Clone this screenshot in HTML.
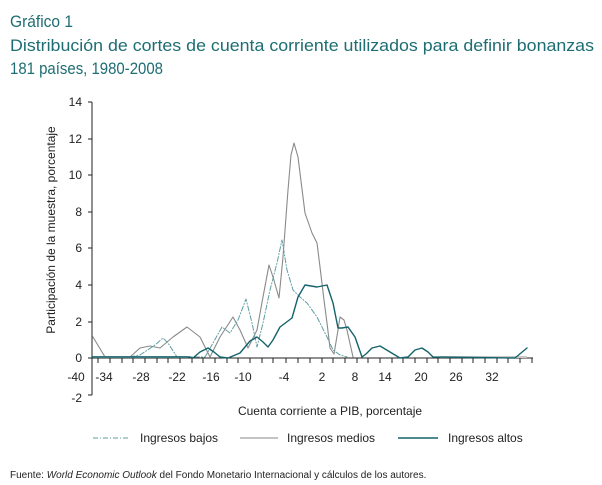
<!DOCTYPE html>
<html><head><meta charset="utf-8"><style>
body{margin:0;background:#fff;}
svg{display:block;font-family:"Liberation Sans",sans-serif;}
</style></head><body>
<svg width="602" height="485" viewBox="0 0 602 485" xmlns="http://www.w3.org/2000/svg">
<g fill="#1d6d73" font-size="17">
<text x="10" y="27" textLength="63" lengthAdjust="spacingAndGlyphs">Gráfico 1</text>
<text x="10" y="51" textLength="584" lengthAdjust="spacingAndGlyphs">Distribución de cortes de cuenta corriente utilizados para definir bonanzas</text>
<text x="10" y="74" textLength="153" lengthAdjust="spacingAndGlyphs">181 países, 1980-2008</text>
</g>
<g stroke="#222" stroke-width="1" fill="none">
<line x1="92" y1="102" x2="92" y2="395"/>
<line x1="92" y1="358" x2="533" y2="358"/>
<line x1="88" y1="102" x2="92" y2="102"/>
<line x1="88" y1="139" x2="92" y2="139"/>
<line x1="88" y1="175" x2="92" y2="175"/>
<line x1="88" y1="212" x2="92" y2="212"/>
<line x1="88" y1="248" x2="92" y2="248"/>
<line x1="88" y1="285" x2="92" y2="285"/>
<line x1="88" y1="322" x2="92" y2="322"/>
<line x1="88" y1="358" x2="92" y2="358"/>
<line x1="88" y1="395" x2="92" y2="395"/>
</g>
<g font-size="12" fill="#222" text-anchor="end">
<text x="82" y="106">14</text><text x="82" y="143">12</text><text x="82" y="179">10</text>
<text x="82" y="216">8</text><text x="82" y="252">6</text><text x="82" y="289">4</text>
<text x="82" y="326">2</text><text x="82" y="362">0</text><text x="82" y="402">-2</text>
</g>
<g font-size="12" fill="#222" text-anchor="middle">
<text x="76" y="381">-40</text><text x="104" y="381">-34</text><text x="141" y="381">-28</text>
<text x="177" y="381">-22</text><text x="211" y="381">-16</text><text x="243" y="381">-10</text>
<text x="284" y="381">-4</text><text x="322" y="381">2</text><text x="355" y="381">8</text>
<text x="385" y="381">14</text><text x="421" y="381">20</text><text x="456" y="381">26</text>
<text x="492" y="381">32</text>
</g>
<text x="330" y="415" font-size="12" fill="#222" text-anchor="middle">Cuenta corriente a PIB, porcentaje</text>
<text transform="translate(55,230) rotate(-90)" font-size="12" fill="#222" text-anchor="middle">Participación de la muestra, porcentaje</text>
<line x1="93" y1="357" x2="188" y2="357" stroke="#a9b9bb" stroke-width="2"/>
<line x1="440" y1="357" x2="527" y2="357" stroke="#c8c8c8" stroke-width="2"/>
<g fill="none" stroke-linejoin="round" stroke-linecap="round">
<polyline stroke="#8a8a8a" stroke-width="1.1" points="93,337 99,347 105,357 130,357 140,348 150,346 160,348 173,337 187,327 200,337 210,357 220,337 233,317 240,330 248,348 257,330 263,297 269,265 273,277 279,298 283,257 288,190 291,155 294,143 298,157 305,213 312,233 317,243 320,267 324,300 327,323 330,348 334,354 338,330 340,317 344,320 347,330 353,357"/>
<polyline stroke="#5e9ea3" stroke-width="1" stroke-dasharray="5,2,1,2" points="130,357 140,355 155,345 163,338 168,343 177,357 205,357 213,343 222,327 230,333 238,320 246,299 252,323 257,347 263,323 270,290 277,263 282,240 287,270 293,290 300,297 307,303 317,317 327,337 333,350 340,355 347,357"/>
<polyline stroke="#14636b" stroke-width="1.4" points="92,357 190,357 193,358 200,352 208,348 214,352 220,357 228,358 240,353 250,341 257,337 263,342 268,347 273,340 280,327 292,318 298,297 305,285 317,287 327,285 333,303 338,328 342,328 348,327 355,337 362,357 366,354 372,348 380,346 390,352 400,358 408,357 415,350 422,348 428,352 433,357 515,358 527,348"/>
</g>
<line x1="93" y1="438" x2="130" y2="438" stroke="#5e9ea3" stroke-dasharray="5,2,1,2"/>
<line x1="240" y1="438" x2="278" y2="438" stroke="#8a8a8a"/>
<line x1="398" y1="438" x2="438" y2="438" stroke="#14636b" stroke-width="1.4"/>
<g font-size="12" fill="#222">
<text x="140" y="442">Ingresos bajos</text>
<text x="287" y="442">Ingresos medios</text>
<text x="448" y="442">Ingresos altos</text>
</g>
<text x="10" y="478" font-size="10" fill="#222">Fuente: <tspan font-style="italic">World Economic Outlook</tspan> del Fondo Monetario Internacional y cálculos de los autores.</text>
<g stroke="#222">
<line x1="98" y1="358" x2="98" y2="363"/><line x1="110" y1="358" x2="110" y2="363"/><line x1="122" y1="358" x2="122" y2="363"/>
<line x1="133" y1="358" x2="133" y2="363"/><line x1="145" y1="358" x2="145" y2="363"/><line x1="157" y1="358" x2="157" y2="363"/>
<line x1="168" y1="358" x2="168" y2="363"/><line x1="180" y1="358" x2="180" y2="363"/><line x1="192" y1="358" x2="192" y2="363"/>
<line x1="203" y1="358" x2="203" y2="363"/><line x1="215" y1="358" x2="215" y2="363"/><line x1="227" y1="358" x2="227" y2="363"/>
<line x1="238" y1="358" x2="238" y2="363"/><line x1="250" y1="358" x2="250" y2="363"/><line x1="262" y1="358" x2="262" y2="363"/>
<line x1="273" y1="358" x2="273" y2="363"/><line x1="286" y1="358" x2="286" y2="363"/><line x1="298" y1="358" x2="298" y2="363"/>
<line x1="310" y1="358" x2="310" y2="363"/><line x1="322" y1="358" x2="322" y2="363"/><line x1="333" y1="358" x2="333" y2="363"/>
<line x1="345" y1="358" x2="345" y2="363"/><line x1="357" y1="358" x2="357" y2="363"/><line x1="368" y1="358" x2="368" y2="363"/>
<line x1="380" y1="358" x2="380" y2="363"/><line x1="392" y1="358" x2="392" y2="363"/><line x1="403" y1="358" x2="403" y2="363"/>
<line x1="415" y1="358" x2="415" y2="363"/><line x1="427" y1="358" x2="427" y2="363"/><line x1="438" y1="358" x2="438" y2="363"/>
<line x1="450" y1="358" x2="450" y2="363"/><line x1="462" y1="358" x2="462" y2="363"/><line x1="473" y1="358" x2="473" y2="363"/>
<line x1="485" y1="358" x2="485" y2="363"/><line x1="497" y1="358" x2="497" y2="363"/><line x1="508" y1="358" x2="508" y2="363"/>
<line x1="520" y1="358" x2="520" y2="363"/><line x1="532" y1="358" x2="532" y2="363"/>
</g>
</svg>
</body></html>
